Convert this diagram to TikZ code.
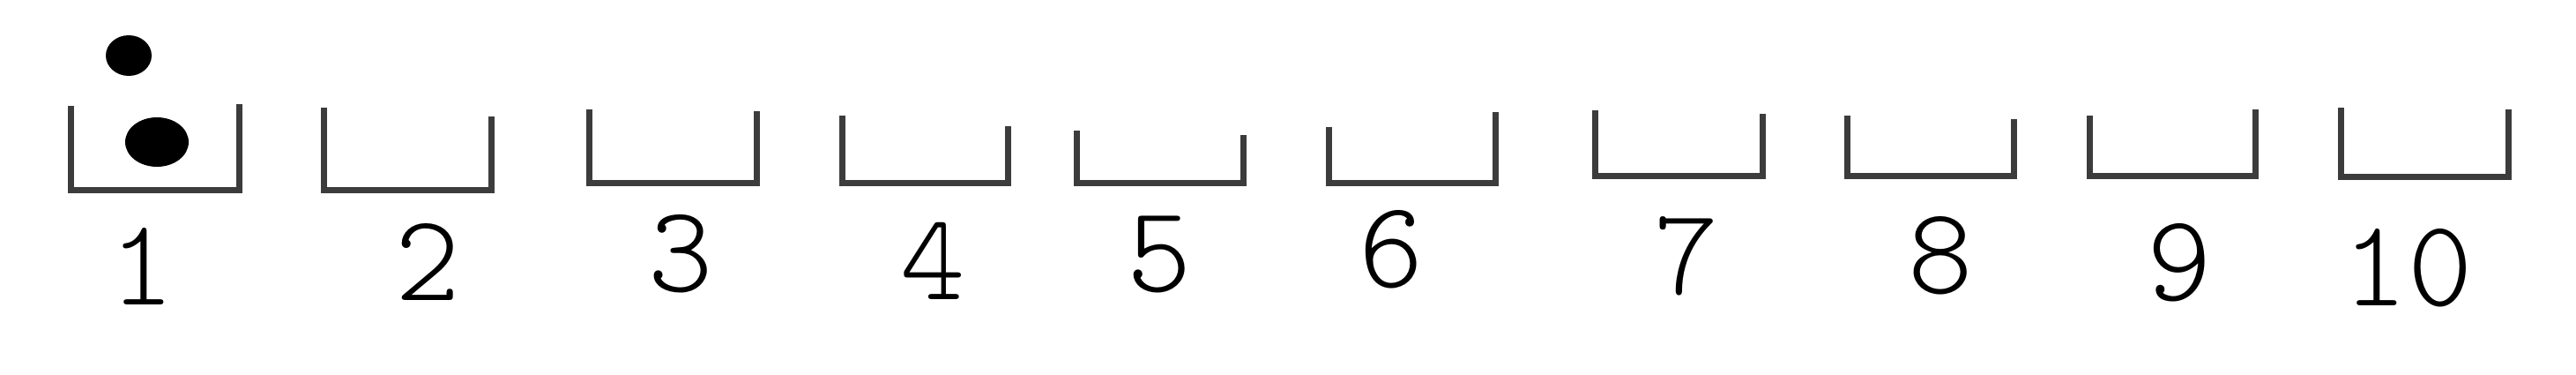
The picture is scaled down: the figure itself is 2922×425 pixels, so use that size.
\documentclass[tikz,border=0pt]{standalone}
\usepackage{fontspec}
\newfontfamily\handfont{lmmonolt10-regular.otf}
\definecolor{bincol}{RGB}{60,60,60}
\begin{document}
\begin{tikzpicture}[x=1pt,y=-1pt,
  binline/.style={draw=bincol,line width=7pt,line join=miter,line cap=butt},
  digit/.style={font=\handfont\fontsize{140}{140}\selectfont,inner sep=0pt,anchor=center},
  ball/.style={fill=black}]
\useasboundingbox (0,0) rectangle (2922,425);
% bins: left x, right x, top-left y, top-right y, bottom y
\foreach \n/\l/\r/\tl/\tr/\b in {
  1/80/271/120/118/215,
  2/367/557/122/132/215,
  3/668/858/124/126/207,
  4/955/1143/131/143/207,
  5/1221/1410/148/153/207,
  6/1507/1696/144/127/207,
  7/1809/1999/125/129/199,
  8/2095/2284/131/135/199,
  9/2370/2558/131/124/199,
  10/2655/2845/122/124/200}{
  \coordinate (b\n tl) at (\l,\tl);
  \coordinate (b\n bl) at (\l,\b);
  \coordinate (b\n br) at (\r,\b);
  \coordinate (b\n tr) at (\r,\tr);
  \draw[binline] (b\n tl) -- (b\n bl) -- (b\n br) -- (b\n tr);
}
% balls
\fill[ball] (146,63) ellipse [x radius=26, y radius=23];
\fill[ball] (178,161) ellipse [x radius=36, y radius=28];
% labels
\foreach \n/\x/\y in {1/161/302, 2/485/297, 3/772/288, 4/1058/296, 5/1315/288,
  6/1578/283, 7/1913/290, 8/2201/290, 9/2472/298, 10/2731/304}{
  \node[digit] (l\n) at (\x,\y) {\n};
}
\end{tikzpicture}
\end{document}
